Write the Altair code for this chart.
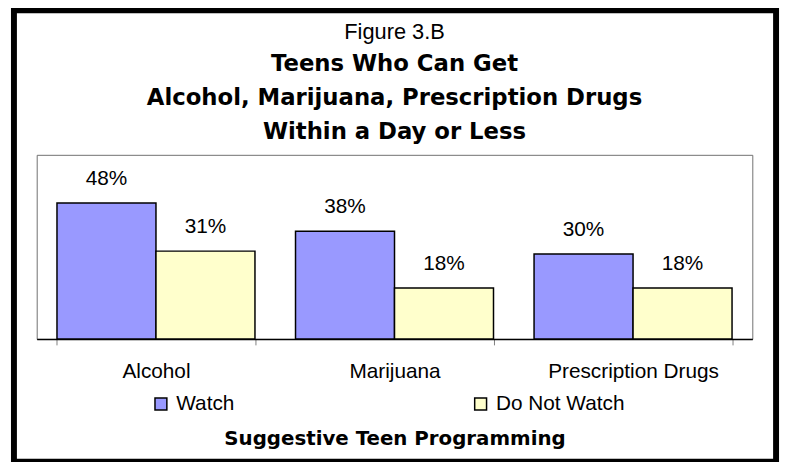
import altair as alt
import pandas as pd

# ---- data ----
categories = ["Alcohol", "Marijuana", "Prescription Drugs"]
groups = ["Watch", "Do Not Watch"]
watch = [48, 38, 30]
do_not_watch = [31, 18, 18]
colors = ["#9999FF", "#FFFFCC"]
title_text = "Figure 3.B"
subtitle_lines = ["Teens Who Can Get",
                  "Alcohol, Marijuana, Prescription Drugs",
                  "Within a Day or Less"]
x_title = "Suggestive Teen Programming"

rows = []
for c, w, d in zip(categories, watch, do_not_watch):
    rows.append({"Substance": c, "Group": groups[0], "Pct": w, "Label": f"{w}%"})
    rows.append({"Substance": c, "Group": groups[1], "Pct": d, "Label": f"{d}%"})
df = pd.DataFrame(rows)

W, H = 723, 186

x = alt.X(
    "Substance:N", sort=categories,
    scale=alt.Scale(paddingInner=0.17, paddingOuter=0.085),
    axis=alt.Axis(
        title=x_title, labelAngle=0, labelFont="Liberation Sans", labelFontSize=21,
        labelColor="black", labelPadding=16, tickSize=6, tickColor="#808080",
        tickBand="extent", domainColor="black", domainWidth=1.5, grid=False,
        titleFont="DejaVu Sans", titleFontWeight="bold", titleFontSize=20,
        titleColor="black", titleY=107, titleBaseline="alphabetic",
    ),
)
y = alt.Y("Pct:Q", scale=alt.Scale(domain=[0, 65], nice=False, zero=True), axis=None)
xo = alt.XOffset("Group:N", sort=groups, scale=alt.Scale(paddingInner=0, paddingOuter=0))
color = alt.Color(
    "Group:N", sort=groups,
    scale=alt.Scale(domain=groups, range=colors),
    legend=alt.Legend(
        title=None, orient="none", legendX=115, legendY=241, direction="horizontal",
        columns=2, columnPadding=238, symbolType="square", symbolSize=144,
        symbolStrokeColor="black", symbolStrokeWidth=1.5, symbolOpacity=1,
        labelFont="Liberation Sans", labelFontSize=21, labelColor="black",
        labelOffset=5, padding=0,
    ),
)

bars = alt.Chart(df).mark_bar(stroke="black", strokeWidth=1.5, opacity=1).encode(
    x=x, xOffset=xo, y=y, color=color
)
labels = alt.Chart(df).mark_text(
    baseline="alphabetic", dy=-18, font="Liberation Sans", fontSize=21, color="black"
).encode(x=x, xOffset=xo, y=y, text="Label:N")

frame = alt.Chart(pd.DataFrame({"k": [0]})).mark_rect(
    filled=False, stroke="black", strokeWidth=6
).encode(x=alt.value(-23), x2=alt.value(747), y=alt.value(-146), y2=alt.value(310))

chart = alt.layer(bars, labels, frame).properties(
    width=W, height=H,
    title=alt.TitleParams(
        text=title_text, subtitle=subtitle_lines, frame="group",
        font="Liberation Sans", fontSize=22, fontWeight="normal", color="black",
        subtitleFont="DejaVu Sans", subtitleFontSize=23, subtitleFontWeight="bold",
        subtitleColor="black", subtitleLineHeight=34.5, subtitlePadding=9,
        anchor="middle", offset=9, dy=148,
    ),
    autosize=alt.AutoSizeParams(type="none"),
    padding={"left": 29, "top": 146, "right": 31, "bottom": 122},
).configure_view(stroke="#707070", strokeWidth=1)

chart.save("out.html", embed_options={"renderer": "svg", "actions": False})
